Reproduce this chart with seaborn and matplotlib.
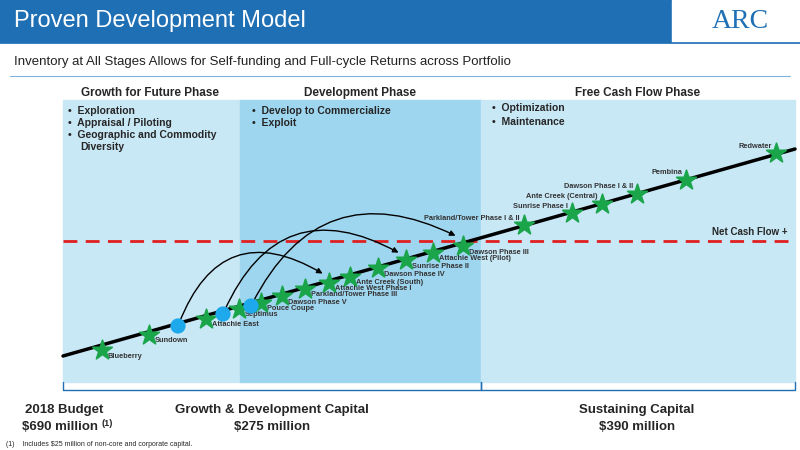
import matplotlib
matplotlib.use("Agg")
import matplotlib.pyplot as plt
import matplotlib.patches as mpatches
import pandas as pd
import seaborn as sns

# project positions along the development line (pixel space of the slide)
project_names = ["Blueberry", "Sundown", "Attachie East", "Septimus", "Pouce Coupe",
                 "Dawson Phase V", "Parkland/Tower Phase III", "Attachie West Phase I",
                 "Ante Creek (South)", "Dawson Phase IV", "Sunrise Phase II",
                 "Attachie West (Pilot)", "Dawson Phase III", "Parkland/Tower Phase I & II",
                 "Sunrise Phase I", "Ante Creek (Central)", "Dawson Phase I & II",
                 "Pembina", "Redwater"]
project_x = [102, 149, 206, 239, 261, 282, 305, 329, 350, 378, 406, 433, 463,
             524, 572, 602, 637, 686, 776]
project_y = [350, 335, 319, 309, 303, 296, 289, 283, 277, 268, 260, 253, 246,
             225, 213, 204, 194, 180, 153]
label_side = ["r", "r", "r", "r", "r", "r", "r", "r", "r", "r", "r", "r", "r",
              "l", "l", "l", "l", "l", "l"]

circle_x = [178, 223, 251]
circle_y = [326, 314, 306]
arrow_end_x = [325, 401, 458]
arrow_end_y = [275, 254, 237]

line_x = [63, 795]
line_y = [356, 149]

sns.set_theme(style="white")
plt.rcParams["font.family"] = ["Liberation Sans", "DejaVu Sans"]

fig = plt.figure(figsize=(8, 4.5), dpi=100)
ax = fig.add_axes([0, 0, 1, 1])

# header
ax.add_patch(mpatches.Rectangle((0, 0), 800, 42, color="#1f6fb5", zorder=0))
ax.add_patch(mpatches.Rectangle((672, 0), 128, 42, color="white", zorder=0))
ax.text(14, 21, "Proven Development Model", color="white", fontsize=17, va="center")
ax.text(740, 21, "ARC", color="#1f6fb5", fontsize=20, va="center", ha="center",
        family="Liberation Serif")
ax.plot([0, 800], [43, 43], color="#1f6fb5", lw=1.2)
ax.text(14, 62, "Inventory at All Stages Allows for Self-funding and Full-cycle Returns across Portfolio",
        fontsize=9.5, va="center", color="#222222")
ax.plot([10, 790], [76, 76], color="#7fb3d9", lw=0.8)

# phase backgrounds
ax.add_patch(mpatches.Rectangle((63, 100), 177, 282, color="#c9e8f6", zorder=0))
ax.add_patch(mpatches.Rectangle((240, 100), 241, 282, color="#9fd6ef", zorder=0))
ax.add_patch(mpatches.Rectangle((481, 100), 314, 282, color="#c9e8f6", zorder=0))
for cx, title in [(150, "Growth for Future Phase"), (360, "Development Phase"),
                  (638, "Free Cash Flow Phase")]:
    ax.text(cx, 93, title, fontsize=8.5, weight="bold", ha="center", va="center")

for i, t in enumerate(["Exploration", "Appraisal / Piloting", "Geographic and Commodity"]):
    ax.text(68, 111 + i * 12, "•  " + t, fontsize=7.5, weight="bold", va="center")
ax.text(80, 147, "Diversity", fontsize=7.5, weight="bold", va="center")
for i, t in enumerate(["Develop to Commercialize", "Exploit"]):
    ax.text(252, 111 + i * 12, "•  " + t, fontsize=7.5, weight="bold", va="center")
for i, t in enumerate(["Optimization", "Maintenance"]):
    ax.text(492, 108 + i * 14, "•  " + t, fontsize=7.5, weight="bold", va="center")

# net cash flow
ax.plot([63, 795], [241, 241], color="#e02020", lw=2, ls=(0, (5, 3)), zorder=2)
ax.text(787, 232, "Net Cash Flow +", fontsize=7, weight="bold", ha="right", va="center")

# development line
sns.lineplot(x=line_x, y=line_y, color="black", lw=2.5, ax=ax, zorder=3)

# arrows
for sx, sy, ex, ey, r in zip(circle_x, circle_y, arrow_end_x, arrow_end_y, [-0.6, -0.55, -0.5]):
    ax.annotate("", xy=(ex, ey), xytext=(sx, sy),
                arrowprops=dict(arrowstyle="-|>", color="black", lw=1,
                                connectionstyle=f"arc3,rad={r}", mutation_scale=8),
                zorder=4)

df = pd.DataFrame({"x": project_x, "y": project_y})
sns.scatterplot(data=df, x="x", y="y", marker="*", s=220, color="#1aa54a",
                edgecolor="#1aa54a", ax=ax, zorder=5, legend=False)
sns.scatterplot(x=circle_x, y=circle_y, s=120, color="#1ea9ec", edgecolor="none",
                ax=ax, zorder=5, legend=False)
ax.set_xlim(0, 800)
ax.set_ylim(450, 0)
ax.axis("off")

for name, x, y, side in zip(project_names, project_x, project_y, label_side):
    if side == "r":
        ax.text(x + 6, y + 6, name, fontsize=5.3, weight="bold", color="#333333", va="center")
    else:
        ax.text(x - 4, y - 7, name, fontsize=5.3, weight="bold", color="#333333",
                va="center", ha="right")

# bottom brackets
for x0, x1 in [(63, 481), (481, 795)]:
    ax.plot([x0, x0, x1, x1], [382, 390, 390, 382], color="#1f6fb5", lw=1)
ax.text(64, 410, "2018 Budget", fontsize=9.5, weight="bold", ha="center", va="center")
ax.text(60, 427, r"\$690 million", fontsize=9.5, weight="bold", ha="center", va="center")
ax.text(101, 423, "(1)", fontsize=6.5, weight="bold", ha="left", va="center")
ax.text(272, 410, "Growth & Development Capital", fontsize=9.5, weight="bold", ha="center", va="center")
ax.text(272, 427, r"\$275 million", fontsize=9.5, weight="bold", ha="center", va="center")
ax.text(637, 410, "Sustaining Capital", fontsize=9.5, weight="bold", ha="center", va="center")
ax.text(637, 427, r"\$390 million", fontsize=9.5, weight="bold", ha="center", va="center")
ax.text(6, 444, r"(1)    Includes \$25 million of non-core and corporate capital.", fontsize=5, va="center")

fig.savefig("out.png", dpi=100)
